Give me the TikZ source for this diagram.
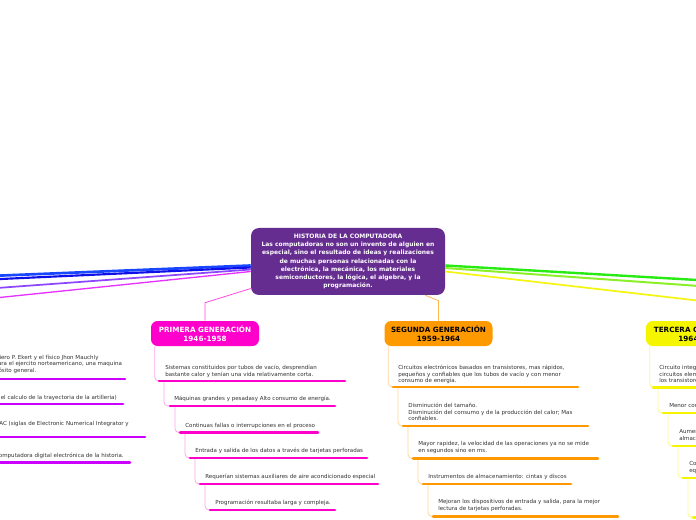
\documentclass[tikz,border=0pt]{standalone}
\usepackage{fontspec}
\setmainfont{DejaVu Sans}
\usetikzlibrary{positioning, calc}
\definecolor{histpurple}{RGB}{102, 45, 145}
\definecolor{genpink}{RGB}{255, 0, 204}
\definecolor{genorange}{RGB}{255, 153, 0}
\definecolor{genyellow}{RGB}{245, 245, 0}
\definecolor{antviolet}{RGB}{204, 0, 255}
\definecolor{linkblue}{RGB}{25, 70, 255}
\definecolor{linknavy}{RGB}{15, 15, 235}
\definecolor{linkviolet}{RGB}{140, 70, 255}
\definecolor{linkmagenta}{RGB}{230, 50, 255}
\definecolor{linkgreen}{RGB}{40, 235, 20}
\definecolor{linklime}{RGB}{140, 240, 40}
\definecolor{linkyellow}{RGB}{245, 245, 20}

\begin{document}
\begin{tikzpicture}[x=0.75pt, y=-0.75pt,
  topic/.style={rounded corners=5pt, minimum width=81pt, minimum height=18.75pt, align=center, inner sep=0pt, font=\fontsize{5.4}{6.75}\selectfont\bfseries},
  item/.style={inner sep=0pt, align=left, text=black!80, font=\fontsize{4.15}{4.95}\selectfont, execute at begin node=\strut},
  uline/.style={line width=2pt, line cap=round},
  branch/.style={line width=0.6pt, rounded corners=3pt},
]
\useasboundingbox (0,0) rectangle (696,520);
\fill[white] (0,0) rectangle (696,520);
\clip (0,0) rectangle (696,520);

% central topic
\node[fill=histpurple, text=white, rounded corners=6pt, minimum width=145.5pt, minimum height=50.25pt, align=center, inner sep=0pt, font=\fontsize{4.5}{6.1}\selectfont\bfseries] (hist) at (348,261.5) {
  HISTORIA DE LA COMPUTADORA\\
  Las computadoras no son un invento de alguien en\\
  especial, sino el resultado de ideas y realizaciones\\
  de muchas personas relacionadas con la\\
  electrónica, la mecánica, los materiales\\
  semiconductores, la lógica, el algebra, y la\\
  programación.};

\node[topic, fill=genpink, text=white] (prim) at (205,333.5) {PRIMERA GENERACIÓN\\1946-1958};
\node[topic, fill=genorange] (seg) at (438.5,333.5) {SEGUNDA GENERACIÓN\\1959-1964};
\node[topic, fill=genyellow] (terc) at (700,333.5) {TERCERA GENERACIÓN\\1964-1971};

% main branches leaving the frame
\coordinate (endblue) at (-10,276);
\coordinate (endnavy) at (-10,279.5);
\coordinate (endviolet) at (-10,288.5);
\coordinate (endmagenta) at (-10,298.5);
\coordinate (endgreen) at (706,280.5);
\coordinate (endlime) at (706,286.5);
\coordinate (endyellow) at (706,301.5);
\draw[linkblue, line width=2pt] ($(hist.west)+(0,4)$) -- (endblue);
\draw[linknavy, line width=1.6pt] ($(hist.west)+(0,6)$) -- (endnavy);
\draw[linkviolet, line width=1.3pt] ($(hist.west)+(0,8)$) -- (endviolet);
\draw[linkmagenta, line width=1pt] ($(hist.west)+(0,10)$) -- (endmagenta);
\draw[linkgreen, line width=1.8pt] ($(hist.east)+(0,4)$) -- (endgreen);
\draw[linklime, line width=1.5pt] ($(hist.east)+(0,6.5)$) -- (endlime);
\draw[linkyellow, line width=1.3pt] ($(hist.east)+(0,10)$) -- (endyellow);

\draw[genpink!70, line width=0.6pt] ($(hist.west)+(0,27)$) -- ($(prim.north)+(0,-18)$) -- (prim.north);
\draw[genorange!70, line width=0.6pt] ($(hist.south east)+(-20,0)$) -- ($(seg.north)+(0,-20)$) -- (seg.north);

% primera generacion
\coordinate (p1u) at (159,381);
\coordinate (p2u) at (170,406);
\coordinate (p3u) at (180,432.5);
\coordinate (p4u) at (190,458);
\coordinate (p5u) at (200,484);
\coordinate (p6u) at (210,510);
\draw[branch, genpink!35] ($(prim.south west)+(4,0)$) |- (p1u);
\draw[branch, genpink!35] ($(p1u)+(5,0)$) |- (p2u);
\draw[branch, genpink!35] ($(p2u)+(5,0)$) |- (p3u);
\draw[branch, genpink!35] ($(p3u)+(5,0)$) |- (p4u);
\draw[branch, genpink!35] ($(p4u)+(5,0)$) |- (p5u);
\draw[branch, genpink!35] ($(p5u)+(5,0)$) |- (p6u);
\draw[uline, genpink] (p1u) -- (345,381);
\draw[uline, genpink] (p2u) -- (335,406);
\draw[uline, genpink] (p3u) -- (318,432.5);
\draw[uline, genpink] (p4u) -- (367,458);
\draw[uline, genpink] (p5u) -- (378,484);
\draw[uline, genpink] (p6u) -- (335,510);
\node[item, anchor=north west] (p1) at (165,365) {Sistemas constituidos por tubos de vacío, desprendían\\bastante calor y tenían una vida relativamente corta.};
\node[item, anchor=north west] (p2) at (174,396) {Máquinas grandes y pesadasy Alto consumo de energía.};
\node[item, anchor=north west] (p3) at (185,423) {Continuas fallas o interrupciones en el proceso};
\node[item, anchor=north west] (p4) at (195,448) {Entrada y salida de los datos a través de tarjetas perforadas};
\node[item, anchor=north west] (p5) at (205,474) {Requerían sistemas auxiliares de aire acondicionado especial};
\node[item, anchor=north west] (p6) at (215,500) {Programación resultaba larga y compleja.};

% segunda generacion
\coordinate (s1u) at (393,387);
\coordinate (s2u) at (403,426);
\coordinate (s3u) at (413,458.5);
\coordinate (s4u) at (423,484);
\coordinate (s5u) at (433,516.5);
\draw[branch, genorange!40] ($(seg.south west)+(4,0)$) |- (s1u);
\draw[branch, genorange!40] ($(s1u)+(5,0)$) |- (s2u);
\draw[branch, genorange!40] ($(s2u)+(5,0)$) |- (s3u);
\draw[branch, genorange!40] ($(s3u)+(5,0)$) |- (s4u);
\draw[branch, genorange!40] ($(s4u)+(5,0)$) |- (s5u);
\draw[uline, genorange] (s1u) -- (578,387);
\draw[uline, genorange] (s2u) -- (588,426);
\draw[uline, genorange] (s3u) -- (598,458.5);
\draw[uline, genorange] (s4u) -- (571,484);
\draw[uline, genorange] (s5u) -- (618,516.5);
\node[item, anchor=north west] (s1) at (398,365) {Circuitos electrónicos basados en transistores, mas rápidos,\\pequeños y confiables que los tubos de vacío y con menor\\consumo de energía.};
\node[item, anchor=north west] (s2) at (408,403) {Disminución del tamaño.\\Disminución del consumo y de la producción del calor; Mas\\confiables.};
\node[item, anchor=north west] (s3) at (418,441) {Mayor rapidez, la velocidad de las operaciones ya no se mide\\en segundos sino en ms.};
\node[item, anchor=north west] (s4) at (428,474) {Instrumentos de almacenamiento: cintas y discos};
\node[item, anchor=north west] (s5) at (438,499) {Mejoran los dispositivos de entrada y salida, para la mejor\\lectura de tarjetas perforadas.};

% tercera generacion
\coordinate (t1u) at (653,387.5);
\coordinate (t2u) at (663,413);
\coordinate (t3u) at (673,446);
\coordinate (t4u) at (683,478);
\coordinate (t5u) at (693,517.5);
\draw[branch, genyellow!45] ($(terc.south west)+(4,0)$) |- (t1u);
\draw[branch, genyellow!45] ($(t1u)+(5,0)$) |- (t2u);
\draw[branch, genyellow!45] ($(t2u)+(5,0)$) |- (t3u);
\draw[branch, genyellow!45] ($(t3u)+(5,0)$) |- (t4u);
\draw[branch, genyellow!45] ($(t4u)+(5,0)$) |- (t5u);
\foreach \u in {t1u,t2u,t3u,t4u,t5u}
  \draw[uline, genyellow] (\u) -- ++(80,0);
\node[item, anchor=north west] (t1) at (659,365) {Circuito integrado, que reúne miles de\\circuitos elementales en una pastilla de silicio y sustituye a\\los transistores.};
\node[item, anchor=north west] (t2) at (669,403) {Menor consumo de energía.};
\node[item, anchor=north west] (t3) at (679,429) {Aumento de la velocidad y de la capacidad de\\almacenamiento.};
\node[item, anchor=north west] (t4) at (689,461) {Computadoras más pequeñas y\\equipos más baratos.};

% antecedentes (left, cut by the frame)
\draw[uline, antviolet] (-60,379) -- (125,379);
\draw[uline, antviolet] (-60,404) -- (123,404);
\draw[uline, antviolet] (-40,437) -- (145,437);
\draw[uline, antviolet] (-60,462.5) -- (130,462.5);
\node[item, anchor=north west] (a1) at (-23,354.5) {El ingeniero P. Ekert y el físico Jhon Mauchly\\crean para el ejercito norteamericano, una maquina\\de propósito general.};
\node[item, anchor=north east] (a2) at (117,395) {(diseñada para el calculo de la trayectoria de la artilleria)};
\node[item, anchor=north east] (a3) at (129,421) {Se llamó ENIAC (siglas de Electronic Numerical Integrator y\\Computer).};
\node[item, anchor=north east] (a4) at (124,453) {Fue la primera computadora digital electrónica de la historia.};
\end{tikzpicture}
\end{document}
